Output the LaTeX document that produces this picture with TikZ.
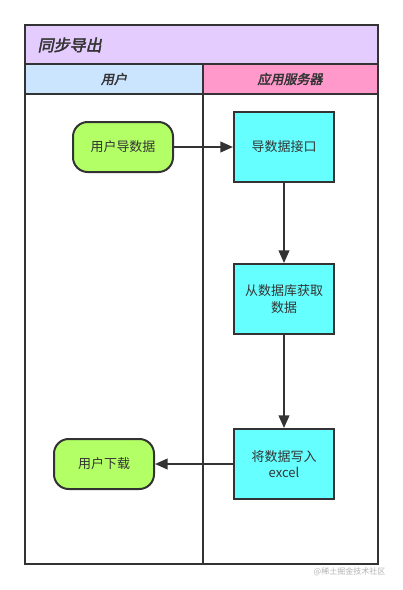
\documentclass[tikz,border=0pt]{standalone}
\usepackage{fontspec}
\setmainfont{Noto Sans CJK SC}
\newfontfamily\headfont[FakeSlant=0.2,FakeBold=2.5]{Noto Sans CJK SC}
\usetikzlibrary{arrows.meta}
\definecolor{lc}{HTML}{333333}
\definecolor{titlebg}{HTML}{E5CCFF}
\definecolor{userbg}{HTML}{CCE5FF}
\definecolor{serverbg}{HTML}{FF99CC}
\definecolor{greenbg}{HTML}{B3FF66}
\definecolor{cyanbg}{HTML}{66FFFF}
\begin{document}
\begin{tikzpicture}[x=0.75pt,y=-0.75pt,
  lane/.style={draw=lc,line width=1.5pt},
  term/.style={draw=lc,line width=1.5pt,fill=greenbg,rounded corners=11pt,minimum width=75pt,minimum height=37.5pt,inner sep=0pt,font=\fontsize{9.75}{12}\selectfont,text=lc},
  proc/.style={draw=lc,line width=1.5pt,fill=cyanbg,minimum width=75pt,minimum height=52.5pt,inner sep=0pt,align=center,font=\fontsize{9.75}{12.5}\selectfont,text=lc},
  conn/.style={draw=lc,line width=1.5pt,-{Triangle[length=9.5pt,width=8pt]}}]
\useasboundingbox (0,0) rectangle (403,590);
% lanes
\fill[titlebg] (25,25) rectangle (378,64);
\fill[userbg] (25,64) rectangle (203,94);
\fill[serverbg] (203,64) rectangle (378,94);
\draw[lane] (25,25) rectangle (378,564);
\draw[lane] (25,64) -- (378,64);
\draw[lane] (25,94) -- (378,94);
\draw[lane] (203,64) -- (203,564);
\node[anchor=west,font=\headfont\fontsize{12}{14}\selectfont,text=lc] (title) at (33,45) {同步导出};
\node[font=\headfont\fontsize{9.75}{12}\selectfont,text=lc] (huser) at (114,79) {用户};
\node[font=\headfont\fontsize{9.75}{12}\selectfont,text=lc] (hserver) at (290,79) {应用服务器};
% nodes
\node[term] (a) at (123,147) {用户导数据};
\node[proc] (b) at (284,147) {导数据接口};
\node[proc] (c) at (284,299) {从数据库获取\\数据};
\node[proc] (d) at (284,464) {将数据写入\\excel};
\node[term] (e) at (104,464) {用户下载};
\draw[conn] (a) -- (b);
\draw[conn] (b) -- (c);
\draw[conn] (c) -- (d);
\draw[conn] (d) -- (e);
\node[anchor=east,font=\fontsize{6}{7}\selectfont,text=black!30] (wm) at (390,572) {@稀土掘金技术社区};
\end{tikzpicture}
\end{document}
